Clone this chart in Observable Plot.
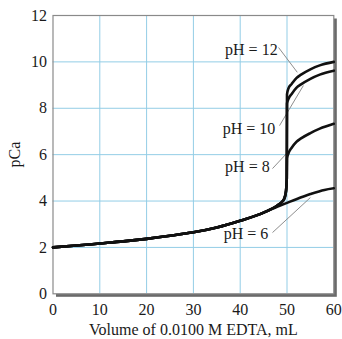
<!DOCTYPE html>
<html>
<head>
<meta charset="utf-8">
<script src="https://cdn.jsdelivr.net/npm/d3@7"></script>
<script src="https://cdn.jsdelivr.net/npm/@observablehq/plot@0.6"></script>
<style>
  html, body { margin: 0; padding: 0; background: white; }
</style>
</head>
<body>
<div id="chart"></div>
<script>
// pH = 6 curve (no sharp break)
const volume6 = [0, 5, 10, 15, 20, 25, 30, 35, 40, 45, 48, 50, 52, 55, 58, 60];
const pCa6 = [2.00, 2.08, 2.17, 2.26, 2.37, 2.50, 2.65, 2.86, 3.15, 3.50, 3.76, 3.92, 4.08, 4.30, 4.48, 4.55];

// shared portion before the equivalence point (pH 8, 10, 12)
const volumeBefore = [0, 5, 10, 15, 20, 25, 30, 35, 40, 45, 48, 49, 49.5, 49.8, 49.95];
const pCaBefore = [2.00, 2.08, 2.17, 2.26, 2.37, 2.50, 2.65, 2.86, 3.15, 3.50, 3.82, 3.98, 4.15, 4.45, 5.00];

// after the equivalence point
const volumeAfter = [50, 50.3, 51, 52, 53, 55, 57, 60];
const pCa8After = [5.85, 6.05, 6.30, 6.55, 6.70, 6.93, 7.12, 7.33];
const pCa10After = [8.20, 8.40, 8.62, 8.88, 9.03, 9.27, 9.45, 9.62];
const pCa12After = [8.60, 8.85, 9.05, 9.30, 9.45, 9.68, 9.85, 10.00];

// curve labels and leader lines (data coordinates)
const labelText = ["pH = 12", "pH = 10", "pH = 8", "pH = 6"];
const labelX = [48.0, 47.5, 46.3, 46.0];
const labelY = [10.53, 7.13, 5.49, 2.60];
const leaderX1 = [48.2, 48.4, 46.9, 46.9];
const leaderY1 = [10.62, 7.25, 5.40, 2.64];
const leaderX2 = [52.2, 53.5, 52.5, 55.0];
const leaderY2 = [9.55, 8.98, 6.61, 4.15];

const xTicks = [0, 10, 20, 30, 40, 50, 60];
const yTicks = [0, 2, 4, 6, 8, 10, 12];

const rows = [];
volume6.forEach((v, i) => rows.push({series: "pH6", v, p: pCa6[i]}));
[["pH8", pCa8After], ["pH10", pCa10After], ["pH12", pCa12After]].forEach(([s, after]) => {
  volumeBefore.forEach((v, i) => rows.push({series: s, v, p: pCaBefore[i]}));
  volumeAfter.forEach((v, i) => rows.push({series: s, v, p: after[i]}));
});

const labels = labelText.map((t, i) => ({t, x: labelX[i], y: labelY[i]}));
const leaders = labelText.map((t, i) => ({x1: leaderX1[i], y1: leaderY1[i], x2: leaderX2[i], y2: leaderY2[i]}));

const chart = Plot.plot({
  width: 342,
  height: 339,
  marginLeft: 52.5,
  marginRight: 8.7,
  marginTop: 15,
  marginBottom: 45.7,
  style: {fontFamily: "Liberation Serif, Times New Roman, serif", fontSize: "16px", color: "#1a1a1a", background: "white"},
  x: {domain: [0, 60]},
  y: {domain: [0, 12]},
  marks: [
    Plot.frame({fill: "#6a6a6a", stroke: "none", dx: 3, dy: 3}),
    Plot.frame({fill: "white", stroke: "none"}),
    Plot.gridX([10, 20, 30, 40, 50], {stroke: "#93cde6", strokeOpacity: 1, strokeWidth: 1}),
    Plot.gridY([2, 4, 6, 8, 10], {stroke: "#93cde6", strokeOpacity: 1, strokeWidth: 1}),
    Plot.frame({stroke: "#8a8a8a", strokeWidth: 1.2}),
    Plot.axisX(xTicks, {tickSize: 0, tickPadding: 10, fontSize: 16, label: "Volume of 0.0100 M EDTA, mL", labelAnchor: "center", labelArrow: "none", labelOffset: 41}),
    Plot.axisY(yTicks, {tickSize: 0, tickPadding: 6, fontSize: 16, label: "pCa", labelAnchor: "center", labelArrow: "none", labelOffset: 44}),
    Plot.link(leaders, {x1: "x1", y1: "y1", x2: "x2", y2: "y2", stroke: "#808080", strokeWidth: 0.9}),
    Plot.line(rows, {x: "v", y: "p", z: "series", curve: "monotone-x", stroke: "#111", strokeWidth: 2.6}),
    Plot.text(labels, {x: "x", y: "y", text: "t", textAnchor: "end", fontSize: 16, fill: "#1a1a1a"})
  ]
});
document.getElementById("chart").appendChild(chart);
</script>
</body>
</html>
